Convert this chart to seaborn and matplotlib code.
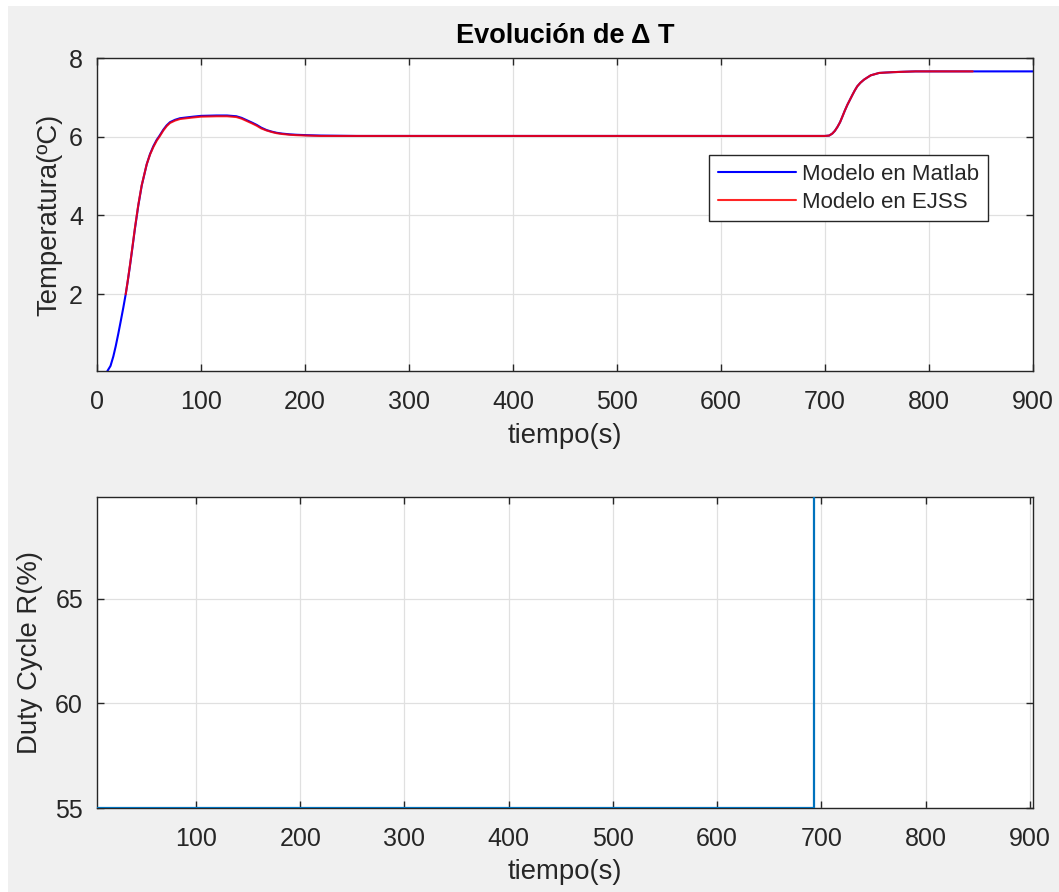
import matplotlib
matplotlib.use("Agg")
import matplotlib.pyplot as plt
from matplotlib.patches import Rectangle
import numpy as np
import pandas as pd
import seaborn as sns

# --- temperature rise, Matlab model ---
t_matlab = [10, 13, 15.7, 18, 20.5, 23, 25.3, 27.6, 29.5, 31.7, 34, 36.5, 39.7, 43,
            47.8, 51, 54.2, 57.4, 60, 63.8, 67, 70.2, 75, 79.8, 86, 92.6, 100, 115,
            125, 134, 139, 144, 149, 153.6, 158, 163, 168, 172.8, 178, 185.6, 192,
            201.6, 215, 250, 300, 400, 500, 600, 700, 704, 707, 709.5, 712, 714.5,
            716.7, 719, 721.5, 724, 726.3, 728.5, 731, 734, 737.5, 741, 744, 748,
            752, 758, 765, 775, 787, 800, 850, 900]
temp_matlab = [0.05, 0.18, 0.42, 0.68, 1.00, 1.34, 1.66, 2.00, 2.32, 2.72, 3.17, 3.67,
               4.25, 4.76, 5.30, 5.56, 5.76, 5.92, 6.02, 6.18, 6.29, 6.37, 6.43, 6.47,
               6.49, 6.51, 6.53, 6.54, 6.54, 6.52, 6.48, 6.42, 6.36, 6.30, 6.23, 6.17,
               6.13, 6.10, 6.08, 6.06, 6.05, 6.04, 6.03, 6.02, 6.02, 6.02, 6.02, 6.02,
               6.02, 6.03, 6.08, 6.15, 6.25, 6.37, 6.51, 6.66, 6.81, 6.94, 7.06, 7.17,
               7.28, 7.37, 7.45, 7.51, 7.56, 7.59, 7.62, 7.63, 7.64, 7.65, 7.66, 7.66,
               7.66, 7.66]

# --- temperature rise, EJSS model ---
t_ejss = [27.6, 29.5, 31.7, 34, 36.5, 39.7, 43, 47.8, 51, 54.2, 57.4, 60, 63.8, 67,
          70.2, 75, 79.8, 86, 92.6, 100, 115, 125, 134, 139, 144, 149, 153.6, 158,
          163, 168, 172.8, 178, 185.6, 192, 201.6, 215, 250, 300, 400, 500, 600, 700,
          704, 707, 709.5, 712, 714.5, 716.7, 719, 721.5, 724, 726.3, 728.5, 731, 734,
          737.5, 741, 744, 748, 752, 758, 765, 775, 787, 800, 842]
temp_ejss = [2.00, 2.33, 2.74, 3.19, 3.69, 4.27, 4.77, 5.30, 5.55, 5.74, 5.90, 6.00,
             6.16, 6.27, 6.35, 6.41, 6.45, 6.47, 6.49, 6.51, 6.52, 6.52, 6.50, 6.46,
             6.40, 6.34, 6.28, 6.21, 6.16, 6.12, 6.09, 6.07, 6.05, 6.04, 6.03, 6.02,
             6.02, 6.02, 6.02, 6.02, 6.02, 6.02, 6.03, 6.08, 6.15, 6.25, 6.37, 6.51,
             6.66, 6.81, 6.94, 7.06, 7.17, 7.28, 7.37, 7.45, 7.51, 7.56, 7.59, 7.62,
             7.63, 7.64, 7.65, 7.66, 7.66, 7.66]

# --- duty cycle of the resistor ---
duty_t = [5, 692.8, 692.8, 903]
duty_pct = [55, 55, 70, 70]

temp_xticks = list(range(0, 901, 100))
temp_yticks = [2, 4, 6, 8]
duty_xticks = list(range(100, 901, 100))
duty_yticks = [55, 60, 65]

sns.set_style("whitegrid", {"axes.edgecolor": "#262626", "grid.color": "#e0e0e0",
                            "axes.facecolor": "white"})
plt.rcParams["font.family"] = ["Liberation Sans", "DejaVu Sans"]

TXT = "#262626"
W, H = 1059, 892
fig = plt.figure(figsize=(W / 100, H / 100), dpi=100, facecolor="white")
fig.patches.append(Rectangle((8 / W, 0), 1, 1 - 6 / H, transform=fig.transFigure,
                             facecolor="#f0f0f0", edgecolor="none", zorder=-10))

ax1 = fig.add_axes([97 / W, 1 - 371 / H, 936 / W, 313 / H])
ax2 = fig.add_axes([97 / W, 1 - 808 / H, 936 / W, 311 / H])

df_m = pd.DataFrame({"t": t_matlab, "T": temp_matlab})
df_e = pd.DataFrame({"t": t_ejss, "T": temp_ejss})
df_d = pd.DataFrame({"t": duty_t, "D": duty_pct})

sns.lineplot(data=df_m, x="t", y="T", ax=ax1, color="blue", linewidth=1.5,
             estimator=None, sort=False, label="Modelo en Matlab")
sns.lineplot(data=df_e, x="t", y="T", ax=ax1, color="red", linewidth=1.5, alpha=0.85,
             estimator=None, sort=False, label="Modelo en EJSS")

sns.lineplot(data=df_d, x="t", y="D", ax=ax2, color="#0072BD", linewidth=1.6,
             estimator=None, sort=False, zorder=3)

ax1.set_xlim(0, 900)
ax1.set_ylim(min(temp_matlab), 8)
ax1.set_xticks(temp_xticks)
ax1.set_yticks(temp_yticks)

ax2.set_xlim(duty_t[0], duty_t[-1])
ax2.set_ylim(55, 69.86)
ax2.set_xticks(duty_xticks)
ax2.set_yticks(duty_yticks)

for ax in (ax1, ax2):
    ax.grid(True, color="#e0e0e0", linewidth=0.9)
    for s in ax.spines.values():
        s.set_color(TXT)
        s.set_linewidth(1.0)
    ax.tick_params(axis="both", which="major", direction="in", length=5, width=1,
                   bottom=True, left=True, top=True, right=True,
                   labelsize=18, labelcolor=TXT, color=TXT)
    ax.tick_params(axis="x", pad=14)
    ax.tick_params(axis="y", pad=10)
    ax.set_xlabel("tiempo(s)", fontsize=19.8, color=TXT)

ax1.set_ylabel("Temperatura(ºC)", fontsize=19.8, color=TXT)
ax2.set_ylabel("Duty Cycle R(%)", fontsize=19.8, color=TXT)
ax1.xaxis.set_label_coords(0.5, -0.165)
ax2.xaxis.set_label_coords(0.5, -0.165)
ax1.yaxis.set_label_coords(-0.0374, 0.5)
ax2.yaxis.set_label_coords(-0.0577, 0.5)

ax1.set_title("Evolución de Δ T", fontsize=19.5, fontweight="bold", color="black", pad=11)

leg = ax1.legend(loc="upper left", bbox_to_anchor=(0.654, 0.690), borderaxespad=0,
                 fontsize=16, handlelength=3.5, handletextpad=0.27, borderpad=0.4,
                 labelspacing=0.3, fancybox=False, framealpha=1, edgecolor=TXT)
leg.get_frame().set_linewidth(1.0)
for txt in leg.get_texts():
    txt.set_color(TXT)

fig.savefig("out.png", dpi=100, facecolor=fig.get_facecolor())
